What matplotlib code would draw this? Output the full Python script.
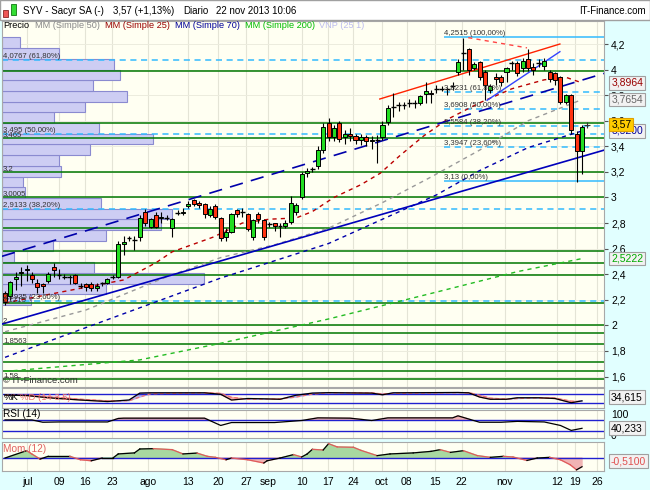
import numpy as np
import matplotlib.pyplot as plt
import matplotlib.transforms as mtrans
from matplotlib.patches import Rectangle

plt.rcParams['font.family'] = ['Liberation Sans', 'DejaVu Sans']

# daily candles SYV (Sacyr), end of june - 22 nov 2013
opens = [2.25, 2.23, 2.36, 2.41, 2.43, 2.39, 2.33, 2.32, 2.35, 2.46,
         2.39, 2.38, 2.38, 2.39, 2.31, 2.32, 2.32, 2.29, 2.33, 2.33,
         2.38, 2.38, 2.64, 2.68, 2.67, 2.69, 2.89, 2.77, 2.86, 2.84,
         2.84, 2.76, 2.88, 2.88, 2.93, 2.98, 2.96, 2.95, 2.86, 2.93,
         2.84, 2.69, 2.73, 2.90, 2.89, 2.87, 2.69, 2.87, 2.82, 2.79,
         2.80, 2.78, 2.78, 2.81, 2.89, 3.00, 3.19, 3.22, 3.25, 3.37,
         3.58, 3.47, 3.58, 3.47, 3.50, 3.48, 3.45, 3.47, 3.44, 3.45,
         3.47, 3.59, 3.71, 3.72, 3.72, 3.74, 3.74, 3.74, 3.81, 3.82,
         3.85, 3.85, 3.85, 3.87, 3.98, 4.13, 4.16, 4.01, 4.06, 3.98,
         3.84, 3.94, 3.94, 3.98, 4.05, 4.05, 4.01, 4.08, 4.02, 4.05,
         4.03, 3.98, 3.97, 3.94, 3.75, 3.80, 3.50, 3.36]
highs = [2.27, 2.35, 2.42, 2.46, 2.47, 2.42, 2.36, 2.33, 2.42, 2.49,
         2.44, 2.40, 2.39, 2.40, 2.33, 2.33, 2.34, 2.33, 2.34, 2.37,
         2.39, 2.66, 2.70, 2.70, 2.70, 2.86, 2.91, 2.84, 2.89, 2.89,
         2.86, 2.84, 2.90, 2.92, 2.97, 2.99, 2.97, 2.96, 2.93, 2.95,
         2.85, 2.76, 2.88, 2.91, 2.92, 2.88, 2.83, 2.89, 2.83, 2.81,
         2.80, 2.80, 2.82, 3.01, 2.96, 3.20, 3.23, 3.24, 3.40, 3.58,
         3.62, 3.57, 3.60, 3.53, 3.54, 3.50, 3.50, 3.49, 3.48, 3.49,
         3.60, 3.72, 3.82, 3.75, 3.75, 3.77, 3.76, 3.80, 3.90, 3.84,
         3.88, 3.87, 3.86, 3.90, 4.08, 4.25, 4.17, 4.06, 4.07, 4.00,
         3.89, 3.97, 3.96, 4.02, 4.07, 4.07, 4.09, 4.16, 4.05, 4.08,
         4.09, 4.00, 3.98, 3.95, 3.81, 3.81, 3.52, 3.57]
lows = [2.16, 2.20, 2.28, 2.31, 2.35, 2.33, 2.25, 2.25, 2.33, 2.38,
        2.36, 2.36, 2.32, 2.32, 2.29, 2.27, 2.27, 2.27, 2.31, 2.32,
        2.36, 2.37, 2.55, 2.66, 2.59, 2.66, 2.78, 2.76, 2.76, 2.80,
        2.82, 2.69, 2.86, 2.86, 2.92, 2.93, 2.92, 2.84, 2.85, 2.83,
        2.66, 2.66, 2.72, 2.85, 2.85, 2.74, 2.67, 2.80, 2.67, 2.77,
        2.74, 2.69, 2.76, 2.79, 2.86, 2.99, 3.16, 3.20, 3.22, 3.35,
        3.44, 3.44, 3.43, 3.42, 3.44, 3.42, 3.41, 3.40, 3.38, 3.27,
        3.45, 3.57, 3.63, 3.68, 3.69, 3.71, 3.70, 3.72, 3.74, 3.74,
        3.82, 3.83, 3.80, 3.84, 3.96, 4.00, 3.96, 4.00, 3.92, 3.76,
        3.82, 3.88, 3.87, 3.90, 4.00, 3.95, 3.98, 3.99, 3.96, 4.02,
        4.00, 3.90, 3.88, 3.73, 3.73, 3.50, 3.12, 3.18]
closes = [2.18, 2.34, 2.38, 2.42, 2.44, 2.36, 2.30, 2.31, 2.40, 2.43,
          2.39, 2.38, 2.38, 2.33, 2.31, 2.30, 2.29, 2.31, 2.33, 2.36,
          2.38, 2.64, 2.65, 2.68, 2.67, 2.84, 2.80, 2.83, 2.77, 2.85,
          2.84, 2.83, 2.88, 2.89, 2.95, 2.95, 2.94, 2.87, 2.91, 2.85,
          2.68, 2.73, 2.87, 2.87, 2.89, 2.75, 2.82, 2.83, 2.69, 2.79,
          2.78, 2.78, 2.80, 2.96, 2.94, 3.18, 3.21, 3.22, 3.37, 3.55,
          3.47, 3.54, 3.46, 3.50, 3.48, 3.45, 3.47, 3.44, 3.45, 3.45,
          3.57, 3.70, 3.71, 3.72, 3.72, 3.74, 3.74, 3.79, 3.83, 3.81,
          3.85, 3.85, 3.85, 3.87, 4.06, 4.13, 4.00, 4.04, 3.94, 3.88,
          3.87, 3.93, 3.90, 4.01, 4.05, 3.97, 4.07, 4.01, 4.00, 4.05,
          4.07, 3.93, 3.92, 3.75, 3.80, 3.53, 3.36, 3.55]

# x axis labels (day index where each label sits)
tick_labels = ['jul', '09', '16', '23', 'ago', '13', '20', '27', 'sep', '10',
               '17', '24', 'oct', '08', '15', '22', 'nov', '12', '19', '26']
tick_idx = [4.1, 10.0, 14.8, 19.8, 26.5, 33.9, 39.5, 44.7, 48.8, 55.1,
            59.9, 64.5, 69.9, 74.5, 79.7, 84.7, 92.7, 102.4, 105.7, 109.8]

# moving averages (sampled along the curves)
ma25_idx = [0, 14, 22, 28, 31, 38.6, 44, 49, 54, 57, 61, 66, 69.6, 73.3, 77.6, 82, 88, 94, 100, 104, 107]
ma25_val = [2.175, 2.29, 2.355, 2.49, 2.575, 2.69, 2.80, 2.83, 2.84, 2.89, 3.0, 3.10,
            3.19, 3.33, 3.48, 3.61, 3.74, 3.85, 3.92, 3.94, 3.8964]
ma50_idx = [0, 15, 30, 40, 50, 60, 70, 79, 88, 97, 107]
ma50_val = [1.95, 2.12, 2.38, 2.53, 2.63, 2.76, 2.96, 3.16, 3.37, 3.60, 3.7654]
ma70_idx = [0, 20, 40, 60, 70, 80, 88, 97, 107]
ma70_val = [1.75, 2.06, 2.37, 2.64, 2.83, 3.02, 3.21, 3.39, 3.52]
ma200_idx = [0, 25, 40, 60, 80, 95, 107]
ma200_val = [1.64, 1.73, 1.86, 2.05, 2.26, 2.42, 2.5222]

# volume profile, 25 price bins, bottom to top (relative volume)
vp_low, vp_high = 2.16, 4.2515
vp_volume = [29, 104, 202, 92, 12, 51, 104, 159, 170, 99, 23, 21, 59,
             57, 88, 151, 97, 52, 83, 125, 91, 118, 112, 57, 18]

# horizontal levels
green_levels = [3.99, 3.58, 3.465, 3.2, 3.0005, 2.76, 2.58, 2.49, 2.39,
                2.1715, 2.0, 1.94, 1.8563, 1.71, 1.64, 1.58]
green_labels = {3.465: '3,465', 3.2: '3,2', 3.0005: '3,0005', 2.1715: '2,1715',
                2.0: '2', 1.8563: '1,8563', 1.58: '1,58'}
fib_a = [4.0767, 3.495, 2.9133, 2.1935]
fib_a_labels = ['4,0767 (61,80%)', '3,495 (50,00%)', '2,9133 (38,20%)', '2,1935 (23,60%)']
fib_b = [4.2515, 3.8231, 3.6908, 3.5584, 3.3947, 3.13]
fib_b_labels = ['4,2515 (100,00%)', '3,8231 (61,80%)', '3,6908 (50,00%)',
                '3,5584 (38,20%)', '3,3947 (23,60%)', '3,13 (0,00%)']
fib_b_start = 81.4

# trend lines (day index, price)
trend_long = ([-0.56, 111.08], [2.54, 3.97])
trend_low = ([-0.56, 111.08], [2.01, 3.37])
trend_red = ([69.5, 102.9], [3.77, 4.20])
trend_blue = ([89.4, 102.9], [3.76, 4.14])
trend_red_dash = ([85.9, 96.8], [4.25, 4.17])

# indicators
stoch_idx = [0, 4, 8, 14, 19, 23, 25, 27, 37, 40, 42, 45, 48, 51, 54, 57, 60, 68, 70, 72,
             84, 86, 88, 90, 93, 95, 99, 102, 105, 107]
stoch_k = [73, 70, 55, 40, 30, 40, 86, 88, 88, 78, 40, 50, 48, 45, 72, 86, 89, 86, 75, 88,
           90, 88, 60, 45, 45, 55, 55, 50, 22, 34.6]
stoch_d = [75, 72, 62, 45, 34, 35, 60, 82, 88, 84, 58, 45, 47, 47, 60, 80, 88, 87, 80, 84,
           89, 89, 72, 52, 46, 50, 55, 53, 32, 30]
rsi_idx = [0, 5, 7, 10, 19, 21, 22, 37, 40, 42, 50, 55, 58, 64, 68, 71, 83, 84, 88, 92,
           95, 100, 103, 105, 107]
rsi_val = [69, 69, 61, 62, 62, 74, 75, 75, 50, 60, 60, 67, 76, 75, 67, 76, 76, 83, 61, 61,
           64, 62, 50, 33, 40.2]
mom_idx = [0, 4, 5, 6.5, 8, 12, 14, 16, 18, 20, 21, 24, 25, 27.5, 31, 33, 35.6, 37.5, 39,
           41, 42, 45, 48, 48.6, 51, 53.5, 55, 56, 57, 59, 60, 61.6, 64.6, 66, 69, 71.4,
           75.7, 79, 80.7, 82.6, 85, 87.6, 90, 92.4, 94.2, 96.8, 98.7, 101, 103, 104.8, 106, 107]
mom_val = [0, 0.43, 0.23, -0.06, 0.1, 0.1, -0.1, -0.16, 0, 0, 0.24, 0.3, 0.53, 0.55, 0.49,
           0.24, 0.29, 0.1, 0.04, -0.1, 0, -0.1, -0.29, -0.16, 0, 0.2, 0.06, 0.23, 0.51, 0.47,
           0.84, 0.65, 0.63, 0.45, 0.14, 0.24, 0.3, 0.39, 0.49, 0.33, 0.43, 0.14, 0.04, 0.1,
           0.06, -0.14, 0, 0.04, -0.1, -0.39, -0.69, -0.51]

W, H = 650, 490
PANEL = '#FFFFF2'
fig = plt.figure(figsize=(W / 100, H / 100), dpi=100, facecolor='#E1FFFF')


def px_box(x0, y0, x1, y1):
    return [x0 / W, 1 - y1 / H, (x1 - x0) / W, (y1 - y0) / H]


def ftext(x, y, s, **kw):
    kw.setdefault('va', 'center')
    fig.text(x / W, 1 - y / H, s, **kw)


def frect(x0, y0, x1, y1, **kw):
    fig.add_artist(Rectangle((x0 / W, 1 - y1 / H), (x1 - x0) / W, (y1 - y0) / H,
                             transform=fig.transFigure, **kw))


ax = fig.add_axes(px_box(2, 21, 604, 387))
ax_st = fig.add_axes(px_box(2, 388, 604, 408), sharex=ax)
ax_rsi = fig.add_axes(px_box(2, 410, 604, 438), sharex=ax)
ax_mom = fig.add_axes(px_box(2, 442, 604, 471), sharex=ax)

xmin, xmax = -0.56, 111.08
px_per_day = 577 / 107

for a in (ax, ax_st, ax_rsi, ax_mom):
    a.set_facecolor(PANEL)
    for s in a.spines.values():
        s.set_color('#A8A8A8')
    a.tick_params(left=False, labelleft=False, bottom=False, labelbottom=False)
    for x in tick_idx:
        a.axvline(x, color='#E4E4D6', lw=0.8, zorder=0)

ax.set_xlim(xmin, xmax)
ax.set_ylim(1.518, 4.38)

# price ticks on the right
yt = np.round(np.arange(1.6, 4.21, 0.2), 1)
ax.set_yticks(yt)
ax.set_yticklabels([('%g' % v).replace('.', ',') for v in yt])
ax.yaxis.tick_right()
ax.tick_params(axis='y', right=True, labelright=True, length=3, pad=2,
               labelsize=7.5, color='#555555')
for v in yt:
    ax.axhline(v, color='#ECECDE', lw=0.7, zorder=0)

# volume profile
vp_edges = np.linspace(vp_low, vp_high, len(vp_volume) + 1)
ax.barh(vp_edges[:-1], np.array(vp_volume) / px_per_day, height=np.diff(vp_edges),
        align='edge', left=xmin, color='#CDCDF3', edgecolor='#8A8AD0', lw=0.8, zorder=1)

# support / resistance and fibonacci levels
for lv in green_levels:
    ax.axhline(lv, color='#007700', lw=1.1, zorder=2)
for lv in fib_a:
    ax.axhline(lv, color='#33BBFF', lw=1.1, ls=(0, (4, 3)), zorder=2)
for i, lv in enumerate(fib_b):
    ls = '-' if i in (0, len(fib_b) - 1) else (0, (4, 3))
    ax.hlines(lv, fib_b_start, xmax, color='#33BBFF', lw=1.1, ls=ls, zorder=2)

lab = dict(fontsize=5.6, color='#333333', va='bottom', zorder=6)
for lv, s in zip(fib_a, fib_a_labels):
    ax.text(xmin + 0.2, lv, s, **lab)
for lv, s in green_labels.items():
    ax.text(xmin + 0.2, lv, s, **lab)
for lv, s in zip(fib_b, fib_b_labels):
    ax.text(fib_b_start, lv, s, **lab)

# moving averages
ax.plot(ma200_idx, ma200_val, color='#22BB22', lw=1, ls=(0, (3, 3)), zorder=3)
ax.plot(ma70_idx, ma70_val, color='#0000AA', lw=1, ls=(0, (3, 3)), zorder=3)
ax.plot(ma50_idx, ma50_val, color='#999999', lw=1, ls=(0, (3, 3)), zorder=3)
ax.plot(ma25_idx, ma25_val, color='#BB0000', lw=1, ls=(0, (3, 3)), zorder=3)

# trend lines
ax.plot(*trend_long, color='#0000AA', lw=1.2, ls=(0, (8, 5)), zorder=3)
ax.plot(*trend_low, color='#0000BB', lw=1.2, zorder=3)
ax.plot(*trend_red, color='#FF2200', lw=1, zorder=3)
ax.plot(*trend_blue, color='#3344FF', lw=1, zorder=3)
ax.plot(*trend_red_dash, color='#FF4444', lw=1, ls=(0, (3, 3)), zorder=3)

# candles
idx = np.arange(len(closes))
o, h, l, c = map(np.array, (opens, highs, lows, closes))
up, dn, flat = c > o, c < o, c == o
ax.vlines(idx, l, h, color='black', lw=0.8, zorder=4)
ax.bar(idx[up], (c - o)[up], bottom=o[up], width=0.75, color='#22DD22',
       edgecolor='black', lw=0.7, zorder=5)
ax.bar(idx[dn], (o - c)[dn], bottom=c[dn], width=0.75, color='#FF3311',
       edgecolor='black', lw=0.7, zorder=5)
ax.hlines(c[flat], idx[flat] - 0.45, idx[flat] + 0.45, color='black', lw=1, zorder=5)
ax.plot(idx[-1] + 0.9, 3.57, marker='+', color='#333333', ms=5, mew=0.8, zorder=5)

# value boxes on the right axis
tr = mtrans.blended_transform_factory(ax.transAxes, ax.transData)
vbox = dict(boxstyle='square,pad=0.18', fc='#F2F2F2', ec='#A0A0A0', lw=0.8)
for val, col in [(3.8964, '#990000'), (3.7654, '#666666'), (3.52, '#000099'), (2.5222, '#00AA00')]:
    txt = ('%.4f' % val).replace('.', ',')
    ax.text(1.012, val, txt, transform=tr, fontsize=7.5, color=col, va='center',
            bbox=vbox, clip_on=False, zorder=7)
ax.text(1.012, 3.57, '3,57', transform=tr, fontsize=7.5, color='black', va='center',
        bbox=dict(boxstyle='square,pad=0.18', fc='#FFCC00', ec='#E0A000', lw=0.8),
        clip_on=False, zorder=8)

ax.text(xmin + 0.2, 1.53, '\u00a9 IT-Finance.com', fontsize=6.8, color='#333333', va='bottom')

# stochastic
ax_st.set_ylim(-13, 120)
sk, sd = np.array(stoch_k), np.array(stoch_d)
ax_st.fill_between(stoch_idx, sk, sd, where=sd >= sk, color='#F4A8A8', interpolate=True, zorder=1)
ax_st.fill_between(stoch_idx, sk, sd, where=sk > sd, color='#B0B0F0', interpolate=True, zorder=1)
for lv in (80, 20):
    ax_st.axhline(lv, color='#2020D0', lw=1, zorder=2)
ax_st.plot(stoch_idx, stoch_d, color='#F07070', lw=0.9, ls=(0, (3, 2)), zorder=3)
ax_st.plot(stoch_idx, stoch_k, color='black', lw=0.9, zorder=3)

# rsi
ax_rsi.set_ylim(7, 103)
rv = np.array(rsi_val)
ax_rsi.fill_between(rsi_idx, rv, 70, where=rv > 70, color='#F0B0B0', interpolate=True, zorder=1)
for lv in (70, 30):
    ax_rsi.axhline(lv, color='#2020D0', lw=1, zorder=2)
ax_rsi.plot(rsi_idx, rsi_val, color='black', lw=0.9, zorder=3)

# momentum
ax_mom.set_ylim(-0.76, 0.94)
mv = np.array(mom_val)
ax_mom.fill_between(mom_idx, mv, 0, where=mv >= 0, color='#A8D8A0', interpolate=True, zorder=1)
ax_mom.fill_between(mom_idx, mv, 0, where=mv < 0, color='#F0B4B4', interpolate=True, zorder=1)
ax_mom.axhline(0, color='#2020D0', lw=1, zorder=2)
for i in range(len(mom_idx) - 1):
    col = '#E05A5A' if mom_val[i + 1] < mom_val[i] else 'black'
    ax_mom.plot(mom_idx[i:i + 2], mom_val[i:i + 2], color=col, lw=0.9, zorder=3)

ax_mom.set_xticks(tick_idx)
ax_mom.set_xticklabels(tick_labels)
ax_mom.tick_params(axis='x', bottom=True, labelbottom=True, length=0, pad=4, labelsize=7.5)

# panel labels and values
ftext(4, 397, '%K', fontsize=6.8, color='black')
ftext(20, 397, '%D (14 3 5)', fontsize=6.8, color='#F07070')
ftext(3, 414, 'RSI (14)', fontsize=7.2, color='black')
ftext(3, 449, 'Mom (12)', fontsize=7.2, color='#E06060')
box_kw = dict(boxstyle='square,pad=0.18', fc='#F2F2F2', ec='#A0A0A0', lw=0.8)
ftext(611, 397, '34,615', fontsize=7.5, bbox=box_kw)
ftext(611, 415, '100', fontsize=7.5)
ftext(611, 436, '0', fontsize=7.5)
ftext(611, 428, '40,233', fontsize=7.5, bbox=box_kw)
ftext(611, 461, '-0,5100', fontsize=7.5, color='#E05050', bbox=box_kw)

# header
frect(0, 0, 650, 20, facecolor='white', edgecolor='#A0A0A0', lw=1)
frect(3, 10, 8, 17, facecolor='#EE5555', edgecolor='#882222', lw=0.6)
frect(11, 4, 16, 15, facecolor='#33DD33', edgecolor='#117711', lw=0.6)
ftext(23, 11, 'SYV - Sacyr SA (-)', fontsize=7)
ftext(113, 11, '3,57 (+1,13%)', fontsize=7)
ftext(183, 11, 'Diario', fontsize=7)
ftext(216, 11, '22 nov 2013 10:06', fontsize=7)
ftext(646, 11, 'IT-Finance.com', fontsize=7, ha='right')

# legend row
leg = dict(fontsize=6.6)
ftext(3, 26, 'Precio', color='black', **leg)
ftext(35, 26, 'MM (Simple 50)', color='#888888', **leg)
ftext(105, 26, 'MM (Simple 25)', color='#990000', **leg)
ftext(175, 26, 'MM (Simple 70)', color='#000099', **leg)
ftext(245, 26, 'MM (Simple 200)', color='#00BB00', **leg)
ftext(319, 26, 'VNP (25 1)', color='#BBBBEE', **leg)

fig.savefig('out.png', dpi=100, facecolor=fig.get_facecolor())
